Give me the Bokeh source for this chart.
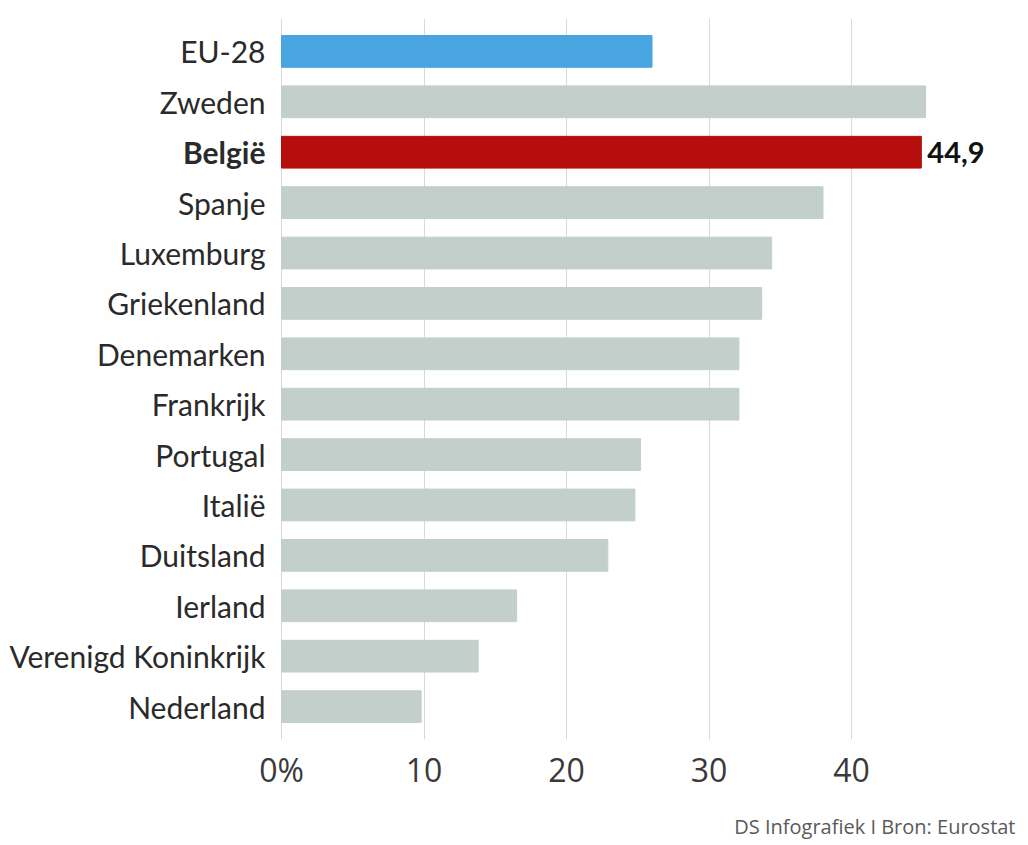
from bokeh.plotting import figure
from bokeh.models import FactorRange, Range1d, FixedTicker, ColumnDataSource
from bokeh.layouts import column
from bokeh.core.properties import value
from bokeh.embed import file_html
from bokeh.resources import INLINE

countries = ["EU-28", "Zweden", "België", "Spanje", "Luxemburg", "Griekenland",
             "Denemarken", "Frankrijk", "Portugal", "Italië", "Duitsland", "Ierland",
             "Verenigd Koninkrijk", "Nederland"]
values = [26.0, 45.2, 44.9, 38.0, 34.4, 33.7, 32.1, 32.1, 25.2, 24.8, 22.9, 16.5, 13.8, 9.8]
ticks = [0, 10, 20, 30, 40]
tick_labels = ["0%", "10", "20", "30", "40"]
highlight_label = "44,9"
credit = "DS Infografiek I Bron: Eurostat"

special_colors = {"EU-28": "#48a5df", "België": "#b60d0d"}
default_color = "#c3cfca"
colors = [special_colors.get(c, default_color) for c in countries]
styles = ["bold" if c == "België" else "normal" for c in countries]

src = ColumnDataSource(dict(country=countries, val=values, color=colors, style=styles))

W = 1028
H1, H2 = 795, 48
p = figure(width=W, height=H1,
           y_range=FactorRange(factors=countries[::-1], range_padding=0.153,
                               range_padding_units="absolute"),
           x_range=Range1d(-281 / 14.25, (W - 281) / 14.25),
           output_backend="svg", toolbar_location=None,
           min_border_left=0, min_border_right=0, min_border_top=18, min_border_bottom=56)
p.outline_line_color = None
p.background_fill_color = "white"

p.hbar(y="country", right="val", left=0, height=0.63, color="color", source=src)

p.text(x=0, y="country", text="country", source=src, x_offset=-16,
       text_align="right", text_baseline="middle",
       text_font=value("Lato"), text_font_size="30px", text_color="#2a2a2a",
       text_font_style="style")

bi = countries.index("België")
p.text(x=[values[bi]], y=[countries[bi]], text=[highlight_label], x_offset=6,
       text_align="left", text_baseline="middle",
       text_font=value("Lato"), text_font_size="29px", text_font_style="bold",
       text_color="#111111")

p.yaxis.visible = False
p.ygrid.grid_line_color = None
p.xgrid.ticker = FixedTicker(ticks=ticks)
p.xgrid.grid_line_color = "#d9d9d9"
p.xgrid.grid_line_width = 1

xa = p.xaxis[0]
xa.ticker = FixedTicker(ticks=ticks)
xa.major_label_overrides = {t: l for t, l in zip(ticks, tick_labels)}
xa.axis_line_color = None
xa.major_tick_line_color = None
xa.minor_tick_line_color = None
xa.major_tick_out = 0
xa.major_tick_in = 0
xa.major_label_standoff = 8
xa.major_label_text_font = "Open Sans"
xa.major_label_text_font_size = "32px"
xa.major_label_text_color = "#3a3a3a"

# credit strip
c = figure(width=W, height=H2, x_range=Range1d(0, W), y_range=Range1d(0, H2),
           output_backend="svg", toolbar_location=None,
           min_border_left=0, min_border_right=0, min_border_top=0, min_border_bottom=0)
c.axis.visible = False
c.grid.visible = False
c.outline_line_color = None
c.text(x=[W - 13], y=[17], text=[credit], text_align="right", text_baseline="middle",
       text_font=value("Open Sans"), text_font_size="20px", text_color="#5a5a5a")

layout = column(p, c, spacing=0)
open("out.html", "w").write(file_html(layout, INLINE))
